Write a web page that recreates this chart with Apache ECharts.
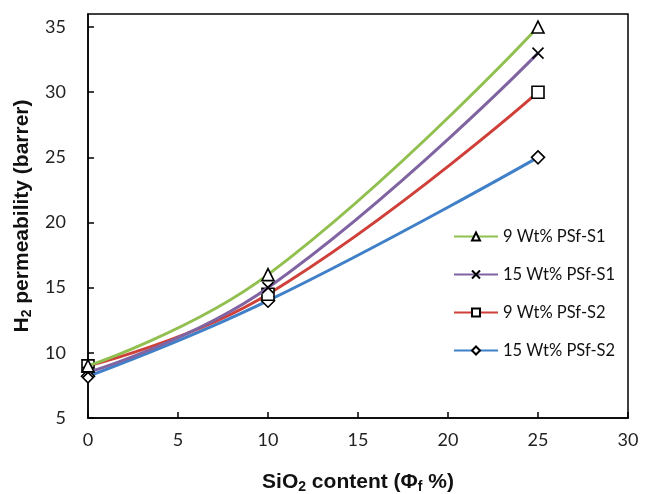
<!DOCTYPE html>
<html><head><meta charset="utf-8">
<script src="https://cdn.jsdelivr.net/npm/echarts@6/dist/echarts.min.js"></script>
<style>html,body{margin:0;padding:0;background:#fff}#c{width:650px;height:494px}</style>
</head><body><div id="c"></div>
<script>
const xValues = [0, 10, 25];
const seriesNames = ['9 Wt% PSf-S1', '15 Wt% PSf-S1', '9 Wt% PSf-S2', '15 Wt% PSf-S2'];
const s1_9 = [9.0, 16.0, 35.0];
const s1_15 = [8.5, 15.0, 33.0];
const s2_9 = [9.0, 14.5, 30.0];
const s2_15 = [8.2, 14.0, 25.0];
const colors = ['#92C050', '#8064A2', '#D0403A', '#3F80C8'];
const symbols = ['triangle', 'path://M0,0L10,10M10,0L0,10', 'rect', 'diamond'];
const allValues = [s1_9, s1_15, s2_9, s2_15];

const chart = echarts.init(document.getElementById('c'));
const font = 'Lato, "Open Sans", sans-serif';
const bold = 'Liberation Sans, Arial, sans-serif';
chart.setOption({
  animation: false,
  grid: {left: 88, right: 22, top: 14, bottom: 76, show: true, borderColor: '#000', borderWidth: 1.5,
         outerBoundsMode: 'none', containLabel: false},
  legend: {
    orient: 'vertical', left: 448, top: 223, itemGap: 21, itemWidth: 44, itemHeight: 10,
    textStyle: {fontFamily: font, fontSize: 16.5, color: '#111'},
    data: seriesNames
  },
  xAxis: {
    type: 'value', min: 0, max: 30, interval: 5,
    axisLine: {lineStyle: {color: '#000', width: 1.5}},
    axisTick: {inside: true, length: 6, lineStyle: {color: '#000', width: 1.5}},
    splitLine: {show: false},
    axisLabel: {fontFamily: font, fontSize: 18, color: '#222', margin: 13},
    name: '{a|SiO}{s|2}{a| content (Φ}{s|f}{a| %)}',
    nameLocation: 'middle', nameGap: 52,
    nameTextStyle: {rich: {
      a: {fontFamily: bold, fontWeight: 'bold', fontSize: 21, color: '#111'},
      s: {fontFamily: bold, fontWeight: 'bold', fontSize: 14, color: '#111', padding: [10, 0, 0, 0]}
    }}
  },
  yAxis: {
    type: 'value', min: 5, max: 36, interval: 5,
    axisLine: {lineStyle: {color: '#000', width: 1.5}},
    axisTick: {inside: true, length: 6, lineStyle: {color: '#000', width: 1.5}},
    splitLine: {show: false},
    axisLabel: {fontFamily: font, fontSize: 18, color: '#222', margin: 22, showMaxLabel: false},
    name: '{a|H}{s|2}{a| permeability (barrer)}',
    nameLocation: 'middle', nameGap: 44, nameRotate: 90,
    nameTextStyle: {rich: {
      a: {fontFamily: bold, fontWeight: 'bold', fontSize: 21, color: '#111'},
      s: {fontFamily: bold, fontWeight: 'bold', fontSize: 14, color: '#111', padding: [10, 0, 0, 0]}
    }}
  },
  series: seriesNames.map((n, i) => ({
    name: n, type: 'line', smooth: 0.45,
    data: xValues.map((x, j) => [x, allValues[i][j]]),
    symbol: symbols[i], symbolSize: i === 1 ? 11 : (i === 3 ? 13 : 12),
    showAllSymbol: true,
    lineStyle: {color: colors[i], width: 3},
    itemStyle: {color: '#fff', borderColor: '#000', borderWidth: 1.6},
    z: 10 - i
  }))
});
</script></body></html>
